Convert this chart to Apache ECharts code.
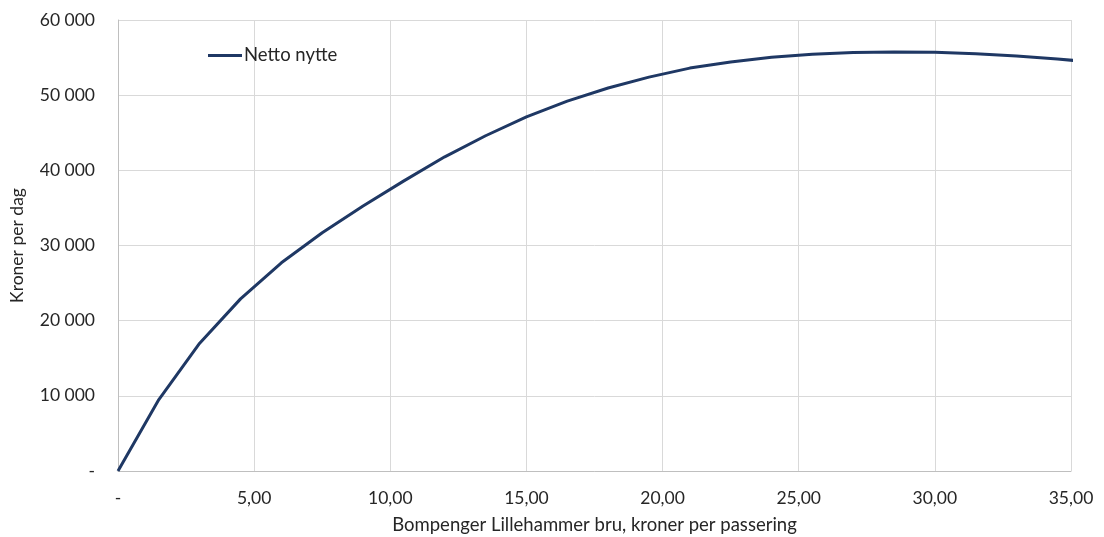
<!DOCTYPE html>
<html>
<head>
<meta charset="utf-8">
<script src="https://cdn.jsdelivr.net/npm/echarts@6/dist/echarts.min.js"></script>
<style>
  html, body { margin: 0; padding: 0; background: #ffffff; }
  #chart { width: 1104px; height: 537px; }
</style>
</head>
<body>
<div id="chart"></div>
<script>
// Toll price (kroner per passing) and resulting net benefit (kroner per day)
const tollPrices = [0, 1.5, 3, 4.5, 6, 7.5, 9, 10.5, 12, 13.5, 15, 16.5, 18, 19.5,
                    21, 22.5, 24, 25.5, 27, 28.5, 30, 31.5, 33, 34.5, 36];
const netBenefit = [0, 9500, 17000, 22900, 27700, 31700, 35250, 38600, 41800, 44600,
                    47100, 49200, 50950, 52400, 53600, 54400, 55050, 55450, 55680,
                    55740, 55700, 55500, 55200, 54800, 54350];

const seriesName = 'Netto nytte';
const xTitle = 'Bompenger Lillehammer bru, kroner per passering';
const yTitle = 'Kroner per dag';

const xTickValues = [0, 5, 10, 15, 20, 25, 30, 35];
const xTickLabels = ['-', '5,00', '10,00', '15,00', '20,00', '25,00', '30,00', '35,00'];
const yTickValues = [0, 10000, 20000, 30000, 40000, 50000, 60000];
const yTickLabels = ['-', '10 000', '20 000', '30 000', '40 000', '50 000', '60 000'];

const FONT = 'Lato, "Open Sans", sans-serif';
const TEXT = '#262626';
const GRID = '#d9d9d9';

const chart = echarts.init(document.getElementById('chart'), null, { renderer: 'canvas' });

chart.setOption({
  animation: false,
  backgroundColor: '#ffffff',
  textStyle: { fontFamily: FONT },
  grid: {
    left: 118, right: 33, top: 20, bottom: 66,
    containLabel: false,
    outerBoundsMode: 'none'
  },
  legend: {
    left: 203,
    top: 41,
    itemWidth: 34,
    itemHeight: 3,
    itemGap: 0,
    icon: 'rect',
    data: [{ name: seriesName, icon: 'rect' }],
    textStyle: { fontFamily: FONT, fontSize: 18.5, color: TEXT, padding: [0, 0, 0, -3] }
  },
  xAxis: {
    type: 'value',
    min: 0,
    max: 35,
    interval: 5,
    name: xTitle,
    nameLocation: 'middle',
    nameGap: 45,
    nameTextStyle: { fontFamily: FONT, fontSize: 18.5, color: TEXT },
    axisLine: { show: true, lineStyle: { color: '#bfbfbf', width: 1 } },
    axisTick: { show: false },
    axisLabel: {
      margin: 18,
      fontFamily: FONT,
      fontSize: 17.5,
      color: TEXT,
      formatter: v => xTickLabels[xTickValues.indexOf(v)] ?? ''
    },
    splitLine: { show: true, lineStyle: { color: GRID, width: 1 } }
  },
  yAxis: {
    type: 'value',
    min: 0,
    max: 60000,
    interval: 10000,
    name: yTitle,
    nameLocation: 'middle',
    nameGap: 92,
    nameTextStyle: { fontFamily: FONT, fontSize: 17.5, color: TEXT },
    axisLine: { show: true, lineStyle: { color: '#bfbfbf', width: 1 } },
    axisTick: { show: false },
    axisLabel: {
      margin: 23,
      fontFamily: FONT,
      fontSize: 17.5,
      color: TEXT,
      formatter: v => yTickLabels[yTickValues.indexOf(v)] ?? ''
    },
    splitLine: { show: true, lineStyle: { color: GRID, width: 1 } }
  },
  series: [{
    name: seriesName,
    type: 'line',
    data: tollPrices.map((p, i) => [p, netBenefit[i]]),
    showSymbol: false,
    symbol: 'none',
    clip: true,
    smooth: false,
    lineStyle: { color: '#1f3864', width: 3 },
    itemStyle: { color: '#1f3864' }
  }]
});
</script>
</body>
</html>
